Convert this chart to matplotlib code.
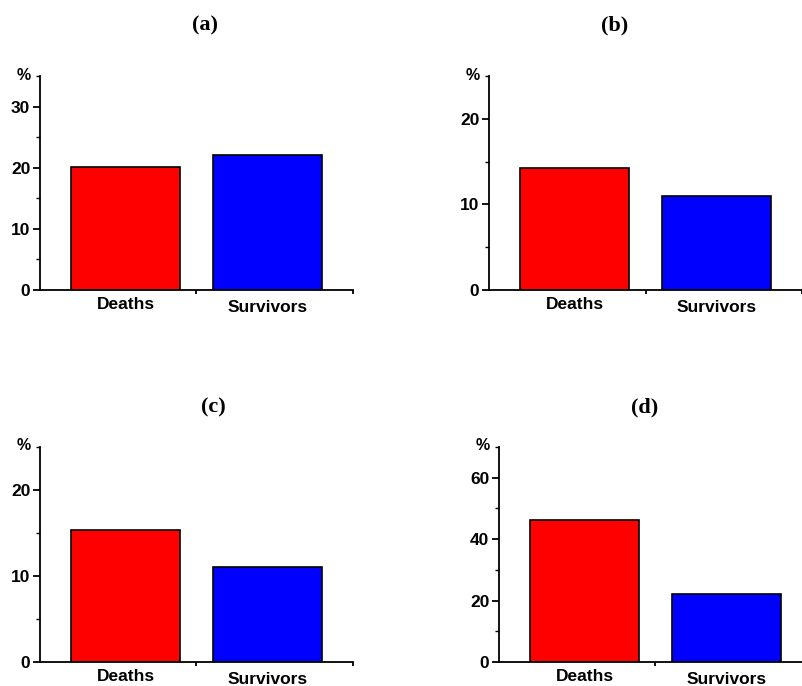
import matplotlib
matplotlib.use("Agg")
import matplotlib.pyplot as plt
import matplotlib.transforms as mtransforms
from matplotlib.ticker import MultipleLocator, FixedLocator

categories = ["Deaths", "Survivors"]
panel_titles = ["(a)", "(b)", "(c)", "(d)"]
values_a = [20.1, 22.1]
values_b = [14.3, 11.0]
values_c = [15.4, 11.1]
values_d = [46.2, 22.3]
ymax = [35, 25, 25, 70]
ymajor = [10, 10, 10, 20]
colors = ["#ff0000", "#0000ff"]

W, H = 803, 686
fig = plt.figure(figsize=(W / 100, H / 100), dpi=100)
plt.rcParams['font.family'] = ['Liberation Sans', 'DejaVu Sans']

# axes boxes in pixels: left, right, top, bottom
boxes = [(40, 353, 76, 290), (489, 802.5, 76, 290),
         (40, 353, 447, 662), (499, 812, 447, 662)]
title_pos = [(205, 25), (615, 25), (213, 407), (645, 407)]
all_vals = [values_a, values_b, values_c, values_d]

for i, (vals, box) in enumerate(zip(all_vals, boxes)):
    l, r, t, b = box
    ax = fig.add_axes([l / W, (H - b) / H, (r - l) / W, (b - t) / H])
    x = list(range(len(categories)))
    ax.bar(x, vals, width=0.77, color=colors, edgecolor="black", linewidth=1.2, zorder=2)
    ax.set_xlim(-0.605, 1.605)
    ax.set_ylim(0, ymax[i])
    for s in ["top", "right"]:
        ax.spines[s].set_visible(False)
    for s in ["left", "bottom"]:
        ax.spines[s].set_linewidth(1.3)
    ax.yaxis.set_major_locator(MultipleLocator(ymajor[i]))
    ax.yaxis.set_minor_locator(MultipleLocator(ymajor[i] / 2))
    ax.tick_params(axis="y", which="major", length=5, width=1.3, labelsize=12.5, pad=2)
    ax.tick_params(axis="y", which="minor", length=3, width=1.0)
    ax.set_xticks(x)
    ax.set_xticklabels(categories)
    ax.xaxis.set_minor_locator(FixedLocator([0.5, 1.605]))
    ax.tick_params(axis="x", which="major", length=0, labelsize=12.5, pad=5)
    ax.tick_params(axis="x", which="minor", length=3, width=1.3)
    for lab in ax.get_yticklabels() + ax.get_xticklabels():
        lab.set_fontweight("bold")
    sl = ax.get_xticklabels()[1]
    sl.set_transform(sl.get_transform() + mtransforms.ScaledTranslation(0, -3 / 100, fig.dpi_scale_trans))
    ax.annotate("%", xy=(0, 1), xycoords="axes fraction", xytext=(-16, 1),
                textcoords="offset pixels", ha="center", va="center",
                fontsize=11.5, fontweight="bold")
    tx, ty = title_pos[i]
    fig.text(tx / W, 1 - ty / H, panel_titles[i], ha="center", va="center",
             fontsize=16, fontweight="bold", family=["Liberation Serif", "DejaVu Serif"])

fig.savefig("out.png", dpi=100)
